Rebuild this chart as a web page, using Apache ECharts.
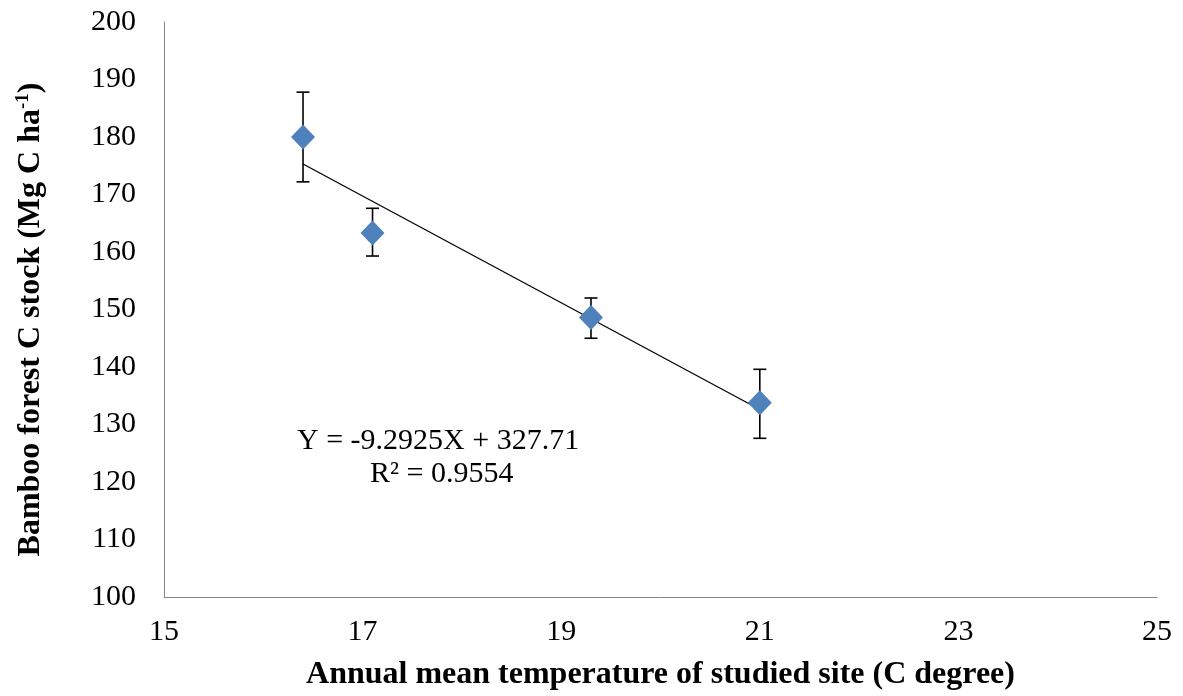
<!DOCTYPE html>
<html>
<head>
<meta charset="utf-8">
<script src="https://cdn.jsdelivr.net/npm/echarts@6/dist/echarts.min.js"></script>
<style>
    html, body { margin: 0; padding: 0; background: #fff; }
    #chart { width: 1183px; height: 696px; }
</style>
</head>
<body>
<div id="chart"></div>
<script>
// temperature (C) vs bamboo forest C stock (Mg C/ha)
var temps = [16.4, 17.1, 19.3, 21.0];
var stocks = [180.0, 163.3, 148.6, 133.8];
var errLow = [172.2, 159.3, 145.0, 127.6];
var errHigh = [187.8, 167.6, 152.0, 139.6];
// linear trend end points
var trendX = [16.4, 21.0];
var trendY = [175.3, 132.6];

var xTicks = [15, 17, 19, 21, 23, 25];
var yTicks = [100, 110, 120, 130, 140, 150, 160, 170, 180, 190, 200];

var serif = '"Liberation Serif", "Times New Roman", serif';

function buildPoints(xs, ys) {
    var out = [];
    for (var i = 0; i < xs.length; i++) {
        out.push([xs[i], ys[i]]);
    }
    return out;
}

var errData = [];
for (var i = 0; i < temps.length; i++) {
    errData.push([temps[i], errLow[i], errHigh[i]]);
}

var chart = echarts.init(document.getElementById('chart'));

var option = {
    animation: false,
    grid: {
        left: 164,
        right: 26,
        top: 22,
        bottom: 99
    },
    xAxis: {
        type: 'value',
        min: xTicks[0],
        max: xTicks[xTicks.length - 1],
        interval: 2,
        name: 'Annual mean temperature of studied site (C degree)',
        nameLocation: 'middle',
        nameGap: 62,
        nameTextStyle: {
            fontFamily: serif,
            fontWeight: 'bold',
            fontSize: 32,
            color: '#000'
        },
        axisLine: { lineStyle: { color: '#868686', width: 1 } },
        axisTick: { show: false },
        splitLine: { show: false },
        axisLabel: {
            fontFamily: serif,
            fontSize: 30,
            color: '#000',
            margin: 20
        }
    },
    yAxis: {
        type: 'value',
        min: yTicks[0],
        max: yTicks[yTicks.length - 1],
        interval: 10,
        name: '{t|Bamboo forest C stock (Mg C ha}{s|-1}{t|)}',
        nameLocation: 'middle',
        nameGap: 116,
        nameTextStyle: {
            padding: [0, 20, 0, 0],
            rich: {
                t: { fontFamily: serif, fontWeight: 'bold', fontSize: 32, color: '#000' },
                s: { fontFamily: serif, fontWeight: 'bold', fontSize: 19, color: '#000', verticalAlign: 'top', padding: [0, 0, 15, 0] }
            }
        },
        axisLine: { show: true, lineStyle: { color: '#868686', width: 1 } },
        axisTick: { show: false },
        splitLine: { show: false },
        axisLabel: {
            fontFamily: serif,
            fontSize: 30,
            color: '#000',
            margin: 28
        }
    },
    graphic: [
        {
            type: 'text',
            left: 297,
            top: 426,
            style: {
                text: 'Y = -9.2925X + 327.71',
                fontFamily: serif,
                fontSize: 30,
                fill: '#000'
            }
        },
        {
            type: 'text',
            left: 370,
            top: 459,
            style: {
                text: 'R\u00b2 = 0.9554',
                fontFamily: serif,
                fontSize: 30,
                fill: '#000'
            }
        }
    ],
    series: [
        {
            name: 'trend',
            type: 'line',
            data: buildPoints(trendX, trendY),
            symbol: 'none',
            lineStyle: { color: '#000', width: 1.3 },
            z: 3
        },
        {
            name: 'error',
            type: 'custom',
            data: errData,
            renderItem: function (params, api) {
                var lo = api.coord([api.value(0), api.value(1)]);
                var hi = api.coord([api.value(0), api.value(2)]);
                var cap = 6.5;
                var style = { stroke: '#000', lineWidth: 1.6 };
                return {
                    type: 'group',
                    children: [
                        { type: 'line', shape: { x1: hi[0], y1: hi[1], x2: lo[0], y2: lo[1] }, style: style },
                        { type: 'line', shape: { x1: hi[0] - cap, y1: hi[1], x2: hi[0] + cap, y2: hi[1] }, style: style },
                        { type: 'line', shape: { x1: lo[0] - cap, y1: lo[1], x2: lo[0] + cap, y2: lo[1] }, style: style }
                    ]
                };
            },
            z: 2
        },
        {
            name: 'stock',
            type: 'scatter',
            data: buildPoints(temps, stocks),
            symbol: 'diamond',
            symbolSize: [24, 25],
            itemStyle: { color: '#4F81BD', opacity: 1 },
            z: 4
        }
    ]
};

chart.setOption(option);
</script>
</body>
</html>
